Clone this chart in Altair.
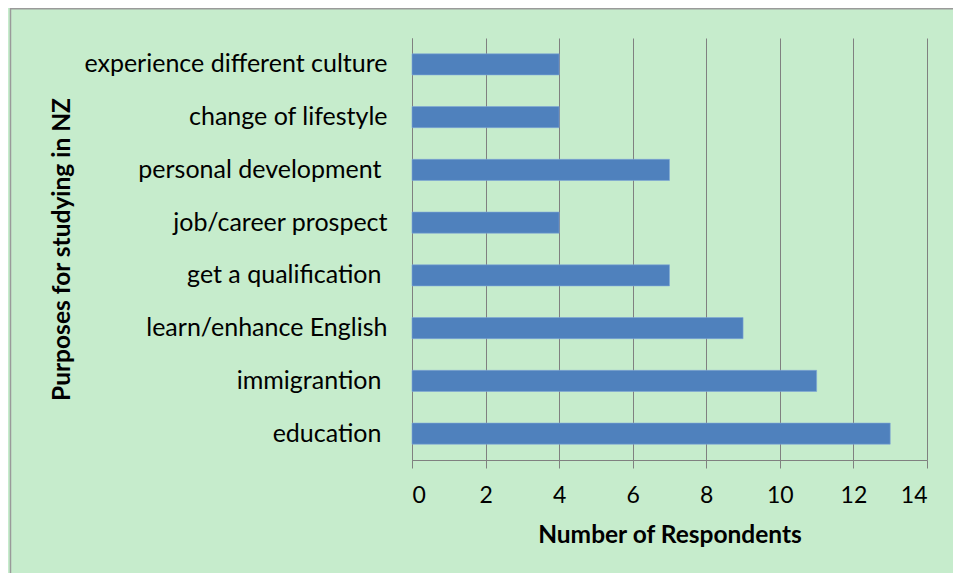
import altair as alt
import pandas as pd

purposes = [
    "experience different culture",
    "change of lifestyle",
    "personal development ",
    "job/career prospect",
    "get a qualification ",
    "learn/enhance English",
    "immigrantion ",
    "education ",
]
respondents = [4, 4, 7, 4, 7, 9, 11, 13]
x_ticks = [0, 2, 4, 6, 8, 10, 12, 14]

df = pd.DataFrame({"purpose": purposes, "n": respondents})

FONT = "Lato"
GRID = "#808080"

W, H = 515, 422
PAD_L, PAD_T, PAD_R, PAD_B = 404, 30, 26, 113

frame = alt.Chart(pd.DataFrame({"k": [0]})).mark_rect(
    fill="transparent", stroke="#9a9a9a", strokeWidth=1.5
).encode(
    x=alt.value(-PAD_L + 2.5),
    x2=alt.value(W + 200),
    y=alt.value(-PAD_T + 0.8),
    y2=alt.value(H + 300),
)

bars = alt.Chart(df).mark_bar(color="#4F81BD", stroke="#7fa6d6", strokeWidth=0.6).encode(
    x=alt.X(
        "n:Q",
        scale=alt.Scale(domain=[0, 14], nice=False),
        axis=alt.Axis(
            values=x_ticks,
            title="Number of Respondents",
            titleFont=FONT,
            titleFontSize=24.5,
            titleFontWeight="bold",
            titleColor="black",
            titleX=W / 2,
            titleY=75,
            titleBaseline="middle",
            titleAlign="center",
            labelFont=FONT,
            labelFontSize=23,
            labelColor="black",
            labelPadding=16,
            tickSize=8,
            tickColor=GRID,
            domainColor=GRID,
            gridColor=GRID,
            gridWidth=1,
            grid=True,
        ),
    ),
    y=alt.Y(
        "purpose:N",
        sort=purposes,
        scale=alt.Scale(paddingInner=0.6, paddingOuter=0.3),
        axis=alt.Axis(
            title="Purposes for studying in NZ",
            titleFont=FONT,
            titleFontSize=24.5,
            titleFontWeight="bold",
            titleColor="black",
            titleAngle=270,
            titleX=-350,
            titleY=H / 2,
            titleAlign="center",
            titleBaseline="middle",
            labelFont=FONT,
            labelFontSize=25,
            labelColor="black",
            labelPadding={
                "condition": {"test": "slice(datum.label, -1) == ' '", "value": 31},
                "value": 25,
            },
            ticks=False,
            domainColor=GRID,
            grid=False,
            labelLimit=400,
        ),
    ),
)

chart = (
    alt.layer(frame, bars)
    .properties(
        width=W,
        height=H,
        background="#C6ECCC",
        padding={"left": PAD_L, "top": PAD_T, "right": PAD_R, "bottom": PAD_B},
        autosize=alt.AutoSizeParams(type="none"),
    )
    .configure_view(stroke=None)
)

chart.save("out.html", embed_options={"renderer": "svg", "actions": False})
